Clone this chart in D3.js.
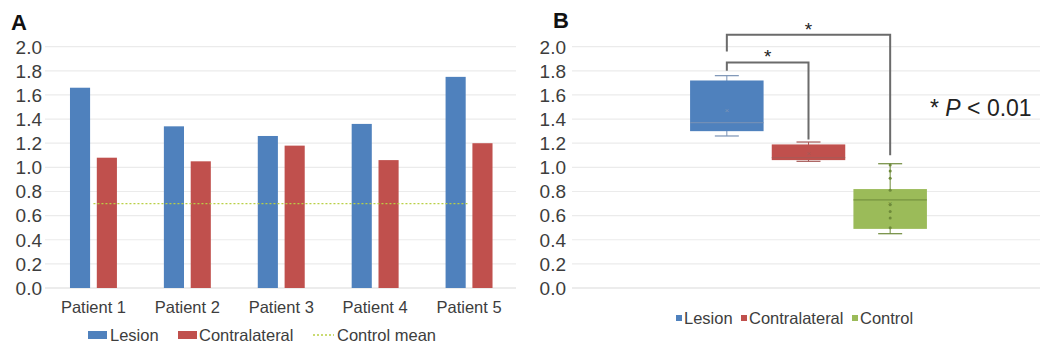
<!DOCTYPE html>
<html>
<head>
<meta charset="utf-8">
<script src="https://cdn.jsdelivr.net/npm/d3@7"></script>
<style>
  body { margin: 0; background: #fff; }
  text { font-family: "Liberation Sans", Arial, sans-serif; fill: #3d3d3d; }
</style>
</head>
<body>
<svg id="chart"></svg>
<script>
// ---- data ----
var patients = ["Patient 1", "Patient 2", "Patient 3", "Patient 4", "Patient 5"];
var lesion = [1.66, 1.34, 1.26, 1.36, 1.75];
var contralateral = [1.08, 1.05, 1.18, 1.06, 1.20];
var controlMean = 0.70;
var yTicks = [0, 0.2, 0.4, 0.6, 0.8, 1.0, 1.2, 1.4, 1.6, 1.8, 2.0];

var groups = ["Lesion", "Contralateral", "Control"];
var boxMin = [1.26, 1.05, 0.45];
var boxQ1 = [1.30, 1.06, 0.49];
var boxMedian = [1.37, 1.08, 0.73];
var boxQ3 = [1.72, 1.19, 0.82];
var boxMax = [1.76, 1.21, 1.03];
var boxMean = [1.47, 1.12, 0.70];
var controlPoints = [1.02, 0.97, 0.91, 0.81, 0.69, 0.635, 0.58, 0.50];

// significance brackets: [left group, right group, left foot, top, right foot]
var brackets = [
  ["Lesion", "Control", 1.96, 2.10, 1.10],
  ["Lesion", "Contralateral", 1.80, 1.87, 1.23]
];

var colors = { "Lesion": "#4f81bd", "Contralateral": "#c0504d", "Control": "#9bbb59" };
var dark = { "Lesion": "#7b93b5", "Contralateral": "#a65a58", "Control": "#6e8a3a" };

var width = 1043, height = 348;
var svg = d3.select("#chart").attr("width", width).attr("height", height);
svg.append("rect").attr("width", width).attr("height", height).attr("fill", "#fff");

var y = d3.scaleLinear().domain([0, 2]).range([288, 46.7]);

function yAxis(x0, x1, labelX) {
  var g = svg.append("g");
  g.selectAll("line").data(yTicks).enter().append("line")
    .attr("x1", x0).attr("x2", x1)
    .attr("y1", function(d) { return y(d); }).attr("y2", function(d) { return y(d); })
    .attr("stroke", function(d) { return d == 0 ? "#d9d9d9" : "#ebebeb"; })
    .attr("stroke-width", 1.2);
  g.selectAll("text").data(yTicks).enter().append("text")
    .attr("x", labelX).attr("y", function(d) { return y(d); })
    .attr("dy", "0.36em").attr("text-anchor", "end")
    .style("font-size", "19px")
    .text(function(d) { return d3.format(".1f")(d); });
}

// ================= Panel A =================
svg.append("text").attr("x", 11).attr("y", 30)
  .style("font-size", "22px").style("font-weight", "bold").style("fill", "#111").text("A");

yAxis(45, 516, 42);

var x0 = d3.scaleBand().domain(patients).range([46.5, 516]).paddingInner(0.5).paddingOuter(0.25);
var x1 = d3.scaleBand().domain(["Lesion", "Contralateral"]).range([0, x0.bandwidth()]).paddingInner(0.25);

var barData = [];
patients.forEach(function(p, i) {
  barData.push({ p: p, s: "Lesion", v: lesion[i] });
  barData.push({ p: p, s: "Contralateral", v: contralateral[i] });
});

svg.append("g").selectAll("rect").data(barData).enter().append("rect")
  .attr("x", function(d) { return x0(d.p) + x1(d.s); })
  .attr("y", function(d) { return y(d.v); })
  .attr("width", x1.bandwidth())
  .attr("height", function(d) { return y(0) - y(d.v); })
  .attr("fill", function(d) { return colors[d.s]; });

svg.append("line")
  .attr("x1", x0(patients[0]) + x0.bandwidth() / 2)
  .attr("x2", x0(patients[4]) + x0.bandwidth() / 2)
  .attr("y1", y(controlMean)).attr("y2", y(controlMean))
  .attr("stroke", "#b9cf45").attr("stroke-width", 1.3).attr("stroke-dasharray", "2,2");

svg.append("g").selectAll("text").data(patients).enter().append("text")
  .attr("x", function(d) { return x0(d) + x0.bandwidth() / 2; })
  .attr("y", 313).attr("text-anchor", "middle")
  .style("font-size", "16.5px").text(function(d) { return d; });

// legend A
var legA = svg.append("g");
legA.append("rect").attr("x", 88).attr("y", 331).attr("width", 19).attr("height", 8).attr("fill", colors.Lesion);
legA.append("text").attr("x", 110).attr("y", 341).style("font-size", "16.5px").text("Lesion");
legA.append("rect").attr("x", 178).attr("y", 331).attr("width", 19).attr("height", 8).attr("fill", colors.Contralateral);
legA.append("text").attr("x", 199).attr("y", 341).style("font-size", "16.5px").text("Contralateral");
legA.append("line").attr("x1", 313).attr("x2", 334).attr("y1", 335).attr("y2", 335)
  .attr("stroke", "#b9cf45").attr("stroke-width", 1.3).attr("stroke-dasharray", "2,2");
legA.append("text").attr("x", 337).attr("y", 341).style("font-size", "16.5px").text("Control mean");

// ================= Panel B =================
svg.append("text").attr("x", 553).attr("y", 28)
  .style("font-size", "22px").style("font-weight", "bold").style("fill", "#111").text("B");

yAxis(572, 1040, 566);

var xb = d3.scaleBand().domain(groups).range([686, 931]).paddingInner(0.1).paddingOuter(0.05);
var cx = function(g) { return xb(g) + xb.bandwidth() / 2; };

var boxes = svg.append("g").selectAll("g").data(groups).enter().append("g");
// whiskers
boxes.append("line")
  .attr("x1", cx).attr("x2", cx)
  .attr("y1", function(d, i) { return y(boxMax[i]); })
  .attr("y2", function(d, i) { return y(boxMin[i]); })
  .attr("stroke", function(d) { return dark[d]; }).attr("stroke-width", 1);
[boxMax, boxMin].forEach(function(arr) {
  boxes.append("line")
    .attr("x1", function(d) { return cx(d) - 12; }).attr("x2", function(d) { return cx(d) + 12; })
    .attr("y1", function(d, i) { return y(arr[i]); }).attr("y2", function(d, i) { return y(arr[i]); })
    .attr("stroke", function(d) { return dark[d]; }).attr("stroke-width", 1.2);
});
boxes.append("rect")
  .attr("x", function(d) { return xb(d); })
  .attr("width", xb.bandwidth())
  .attr("y", function(d, i) { return y(boxQ3[i]); })
  .attr("height", function(d, i) { return y(boxQ1[i]) - y(boxQ3[i]); })
  .attr("fill", function(d) { return colors[d]; });
boxes.append("line")
  .attr("x1", function(d) { return xb(d); }).attr("x2", function(d) { return xb(d) + xb.bandwidth(); })
  .attr("y1", function(d, i) { return y(boxMedian[i]); }).attr("y2", function(d, i) { return y(boxMedian[i]); })
  .attr("stroke", function(d) { return dark[d]; }).attr("stroke-width", 1);
// mean markers (faint x)
boxes.append("text")
  .attr("x", cx).attr("y", function(d, i) { return y(boxMean[i]); })
  .attr("dy", "0.35em").attr("text-anchor", "middle")
  .style("font-size", "8px").style("fill", function(d) { return dark[d]; })
  .text("×");
// control inner points
svg.append("g").selectAll("circle").data(controlPoints).enter().append("circle")
  .attr("cx", cx("Control")).attr("cy", function(d) { return y(d); })
  .attr("r", 1.5).attr("fill", "#6e8a3a");

// brackets
var br = svg.append("g");
brackets.forEach(function(b) {
  var xl = cx(b[0]), xr = cx(b[1]);
  br.append("path")
    .attr("d", "M" + xl + "," + y(b[2]) + "V" + y(b[3]) + "H" + xr + "V" + y(b[4]))
    .attr("fill", "none").attr("stroke", "#6b6b6b").attr("stroke-width", 2);
  br.append("text")
    .attr("x", (xl + xr) / 2).attr("y", y(b[3]) + 1)
    .attr("text-anchor", "middle").style("font-size", "19px").style("fill", "#222")
    .text("*");
});

var pt = svg.append("text").attr("x", 930).attr("y", 116).style("font-size", "23px").style("fill", "#222");
pt.append("tspan").text("* ");
pt.append("tspan").style("font-style", "italic").text("P");
pt.append("tspan").text(" < 0.01");

// legend B
var legB = svg.append("g");
var lx = [676, 741, 852];
groups.forEach(function(g, i) {
  legB.append("rect").attr("x", lx[i]).attr("y", 315).attr("width", 6).attr("height", 6).attr("fill", colors[g]);
  legB.append("text").attr("x", lx[i] + 8).attr("y", 324).style("font-size", "16.5px").text(g);
});
</script>
</body>
</html>
